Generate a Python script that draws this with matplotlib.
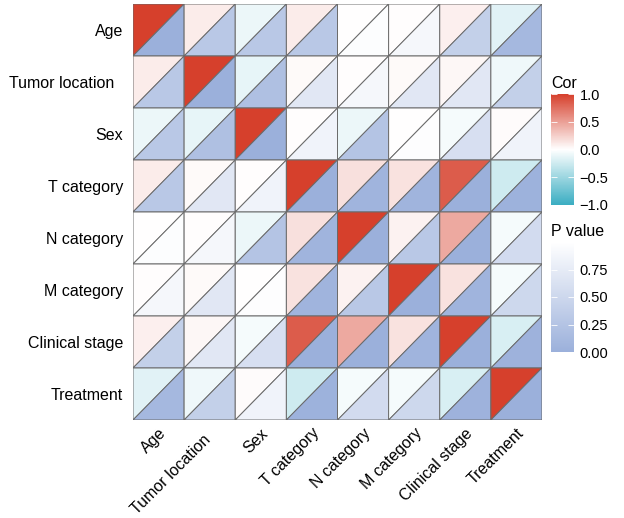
import numpy as np
import matplotlib
matplotlib.use('Agg')
from matplotlib import pyplot as plt
from matplotlib.colors import LinearSegmentedColormap, Normalize
from matplotlib.cm import ScalarMappable
from matplotlib.patches import Polygon

plt.rcParams['font.family'] = ['Liberation Sans', 'DejaVu Sans']

labels = ['Age', 'Tumor location  ', 'Sex', 'T category', 'N category',
          'M category', 'Clinical stage', 'Treatment']

# correlation matrix (symmetric)
cor = np.array([
  [ 1.00,  0.10, -0.10,  0.10,  0.00,  0.01,  0.08, -0.15],
  [ 0.10,  1.00, -0.12,  0.03,  0.01,  0.03,  0.04, -0.08],
  [-0.10, -0.12,  1.00,  0.01, -0.10,  0.00, -0.05,  0.02],
  [ 0.10,  0.03,  0.01,  1.00,  0.16,  0.15,  0.85, -0.25],
  [ 0.00,  0.01, -0.10,  0.16,  1.00,  0.07,  0.45, -0.05],
  [ 0.01,  0.03,  0.00,  0.15,  0.07,  1.00,  0.15, -0.05],
  [ 0.08,  0.04, -0.05,  0.85,  0.45,  0.15,  1.00, -0.20],
  [-0.15, -0.08,  0.02, -0.25, -0.05, -0.05, -0.20,  1.00],
])

# p value matrix (symmetric)
pval = np.array([
  [0.00, 0.30, 0.30, 0.30, 0.97, 0.90, 0.40, 0.10],
  [0.30, 0.00, 0.20, 0.70, 0.90, 0.70, 0.70, 0.40],
  [0.30, 0.20, 0.00, 0.85, 0.25, 0.98, 0.60, 0.85],
  [0.30, 0.70, 0.85, 0.00, 0.05, 0.05, 0.00, 0.02],
  [0.97, 0.90, 0.25, 0.05, 0.00, 0.30, 0.00, 0.55],
  [0.90, 0.70, 0.98, 0.05, 0.30, 0.00, 0.05, 0.50],
  [0.40, 0.70, 0.60, 0.00, 0.00, 0.05, 0.00, 0.03],
  [0.10, 0.40, 0.85, 0.02, 0.55, 0.50, 0.03, 0.00],
])

cor_cmap = LinearSegmentedColormap.from_list('cor', ['#3AADC2', '#FFFFFF', '#D6402C'])
p_cmap = LinearSegmentedColormap.from_list('pv', ['#9BB0DB', '#FFFFFF'])
cor_norm = Normalize(-1, 1)
p_norm = Normalize(0, 1)

fig = plt.figure(figsize=(6.24, 5.18), dpi=100)
ax = fig.add_axes([133/624, 1-420/518, 409/624, 416/518])

n = len(labels)
edge = '#6a6a6a'
for i in range(n):
  for j in range(n):
    x0, y0 = j, i
    # upper-left triangle: correlation
    ax.add_patch(Polygon([(x0, y0), (x0+1, y0), (x0, y0+1)], closed=True,
                         facecolor=cor_cmap(cor_norm(cor[i, j])), edgecolor=edge, lw=0.7))
    # lower-right triangle: p value
    ax.add_patch(Polygon([(x0, y0+1), (x0+1, y0), (x0+1, y0+1)], closed=True,
                         facecolor=p_cmap(p_norm(pval[i, j])), edgecolor=edge, lw=0.7))

ax.set_xlim(0, n)
ax.set_ylim(n, 0)
ax.set_xticks(np.arange(n) + 0.5)
ax.set_yticks(np.arange(n) + 0.5)
ax.set_xticklabels(labels, rotation=45, ha='right', va='top', rotation_mode='anchor', fontsize=11.5)
ax.set_yticklabels(labels, fontsize=11.5)
ax.tick_params(axis='x', length=0, pad=4)
ax.tick_params(axis='y', length=0, pad=7)
for s in ax.spines.values():
  s.set_visible(False)

# legends
cax1 = fig.add_axes([551/624, 1-205/518, 23/624, 111/518])
cb1 = fig.colorbar(ScalarMappable(norm=cor_norm, cmap=cor_cmap), cax=cax1, ticks=[-1, -0.5, 0, 0.5, 1])
cb1.set_ticklabels(['\u22121.0', '\u22120.5', '0.0', '0.5', '1.0'])
cb1.outline.set_visible(False)
cax1.tick_params(left=True, right=True, direction='in', color='white', length=4, width=0.6, labelsize=10.5, pad=4)
fig.text(551/624, 1-83/518, 'Cor', fontsize=11.5, va='center', ha='left')

cax2 = fig.add_axes([551/624, 1-352/518, 23/624, 110/518])
cb2 = fig.colorbar(ScalarMappable(norm=p_norm, cmap=p_cmap), cax=cax2, ticks=[0, 0.25, 0.5, 0.75])
cb2.set_ticklabels(['0.00', '0.25', '0.50', '0.75'])
cb2.outline.set_visible(False)
cax2.tick_params(left=True, right=True, direction='in', color='white', length=4, width=0.6, labelsize=10.5, pad=4)
fig.text(551/624, 1-232/518, 'P value', fontsize=11.5, va='center', ha='left')

fig.savefig('out.png', dpi=100)
